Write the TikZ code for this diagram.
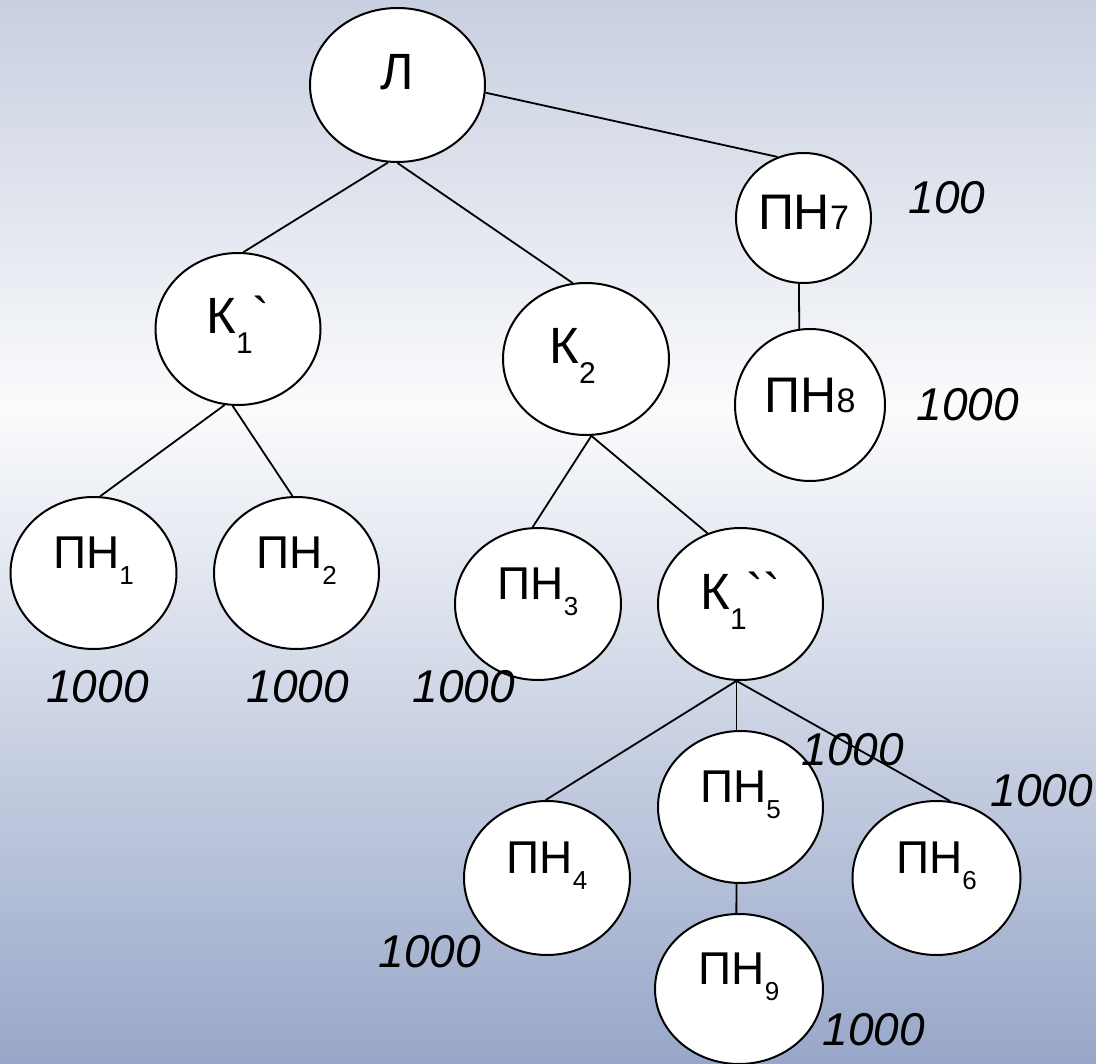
\documentclass[tikz,border=0pt]{standalone}
\usepackage{fontspec}
\usetikzlibrary{shapes.geometric}
\newfontfamily\arial{Liberation Sans}
\definecolor{bgtop}{RGB}{200,207,224}
\definecolor{bgmid}{RGB}{250,251,252}
\definecolor{bgbot}{RGB}{152,167,201}
\newcommand{\psub}[1]{\raisebox{-16pt}{\fontsize{26}{26}\selectfont #1}}
\newcommand{\ksub}[1]{\raisebox{-20pt}{\fontsize{30}{30}\selectfont #1}}
\tikzset{
  knot/.style={ellipse, draw, fill=white, line width=2pt, inner sep=0pt,
    minimum width=166, minimum height=152},
  bignode/.style={knot, font=\arial\fontsize{51}{51}\selectfont, text height=36pt, text depth=26pt},
  sidenode/.style={knot, font=\arial\fontsize{50}{50}\selectfont, text height=36pt},
  leafnode/.style={knot, font=\arial\fontsize{46}{46}\selectfont, text height=31pt, text depth=40pt},
  wlabel/.style={font=\arial\itshape\fontsize{46}{46}\selectfont, inner sep=0pt},
  link/.style={line width=1.8pt}
}
\begin{document}
\begin{tikzpicture}[x=1pt, y=-1pt]
            \useasboundingbox (0,0) rectangle (1096,1064);
            % Background
            \shade[top color=bgtop, bottom color=bgmid] (0,0) rectangle (1096,410);
            \shade[top color=bgmid, bottom color=bgbot] (0,410) rectangle (1096,1064);

            % Tree nodes
            \node[bignode, minimum width=175, minimum height=154] (L) at (397.5,85) {Л};
            \node[bignode, minimum width=165] (K1a) at (238,329) {К\ksub{1}\symbol{96}};
            \node[bignode] (K2) at (586,359) {К\ksub{2}\hspace*{27pt}};
            \node[sidenode, text depth=12pt, minimum width=135, minimum height=130] (P7) at (803.5,218) {ПН{\fontsize{34}{34}\selectfont 7}};
            \node[sidenode, text depth=20pt, minimum width=150] (P8) at (810,405) {ПН{\fontsize{34}{34}\selectfont 8}};
            \node[leafnode] (P1) at (93.5,573) {ПН\psub{1}};
            \node[leafnode, minimum width=165] (P2) at (296.5,573) {ПН\psub{2}};
            \node[leafnode] (P3) at (538,604) {ПН\psub{3}};
            \node[bignode, minimum width=165] (K1b) at (740.5,604) {К\ksub{1}\symbol{96}\symbol{96}};
            \node[leafnode, minimum height=154] (P4) at (547,878) {ПН\psub{4}};
            \node[leafnode, minimum width=165] (P5) at (740.5,807) {ПН\psub{5}};
            \node[leafnode, minimum width=168, minimum height=154] (P6) at (936.5,878) {ПН\psub{6}};
            \node[leafnode, minimum width=168, minimum height=150] (P9) at (739,989) {ПН\psub{9}};

            % Branches
            \draw[link] (L.-97) -- (K1a.86);
            \draw[link] (L.-90) -- (K2.100);
            \draw[link] (L.-5) -- (P7.113);
            \draw[link] (P7.-94) -- (P8.98);
            \draw[link] (K1a.-100) -- (P1.85);
            \draw[link] (K1a.-94) -- (P2.93);
            \draw[link] (K2.-86) -- (P3.94);
            \draw[link] (K2.-86) -- (K1b.115);
            \draw[link] (K1b.-93) -- (P4.91);
            \draw[link] (K1b.-93) -- (P5.93);
            \draw[link] (K1b.-93) -- (P6.80);
            \draw[link] (P5.-93) -- (P9.92);

            % Weights
            \node[wlabel] (w7) at (947,198) {100};
            \node[wlabel] (w8) at (968,405) {1000};
            \node[wlabel] (w1) at (97.5,686.5) {1000};
            \node[wlabel] (w2) at (298,686.5) {1000};
            \node[wlabel] (w3) at (464,687) {1000};
            \node[wlabel] (w5) at (853,750) {1000};
            \node[wlabel] (w6) at (1042,791) {1000};
            \node[wlabel] (w4) at (430,952) {1000};
            \node[wlabel] (w9) at (874,1030) {1000};
\end{tikzpicture}
\end{document}
